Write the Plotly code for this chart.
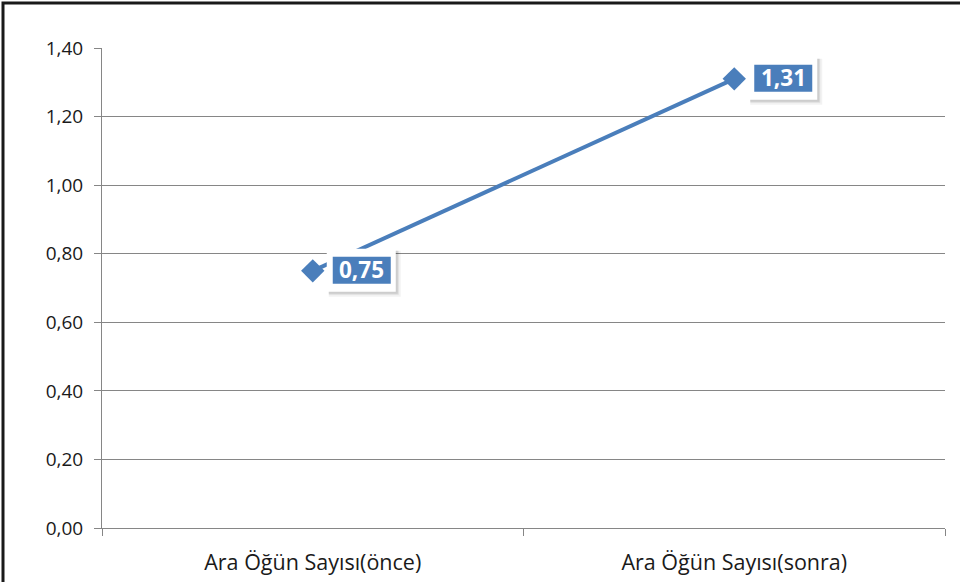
import plotly.graph_objects as go

categories = ["Ara Öğün Sayısı(önce)", "Ara Öğün Sayısı(sonra)"]
values = [0.75, 1.31]
y_ticks = [0.0, 0.2, 0.4, 0.6, 0.8, 1.0, 1.2, 1.4]

BLUE = "#4a7ebb"
GRID = "#868686"
FONT = "Open Sans"

fig = go.Figure()
fig.add_trace(go.Scatter(
    x=categories, y=values, mode="lines+markers",
    line=dict(color=BLUE, width=4),
    marker=dict(symbol="diamond", size=18, color=BLUE),
    hoverinfo="skip", showlegend=False,
))

labels = [f"{v:.2f}".replace(".", ",") for v in values]


def pix_rect(c, v, x0, x1, y0, y1, fill, line_color=None, line_width=0):
    fig.add_shape(type="rect", xref="x", yref="y",
                  xsizemode="pixel", ysizemode="pixel", xanchor=c, yanchor=v,
                  x0=x0, x1=x1, y0=y0, y1=y1, fillcolor=fill,
                  line=dict(color=line_color or fill, width=line_width), layer="above")


for c, v, t in zip(categories, values, labels):
    # soft shadow
    pix_rect(c, v, 16, 88, -26, 20, "rgba(0,0,0,0.05)")
    pix_rect(c, v, 16, 86, -24, 20, "rgba(0,0,0,0.08)")
    pix_rect(c, v, 16, 85, -23, 20, "rgba(0,0,0,0.08)")
    # white frame
    pix_rect(c, v, 14, 83, -21, 22, "white")
    # blue box
    pix_rect(c, v, 20, 78, -13, 14, BLUE)
    fig.add_annotation(x=c, y=v, xref="x", yref="y", text=f"<b>{t}</b>", showarrow=False,
                       xanchor="center", yanchor="middle", xshift=49, yshift=1,
                       font=dict(family=FONT, size=22.5, color="white"))

fig.add_shape(type="rect", xref="paper", yref="paper",
              x0=-99 / 843, y0=-0.3, x1=1.2, y1=1 + 45 / 480,
              line=dict(color="#1a1a1a", width=3), layer="above")

fig.update_layout(
    width=960, height=582, autosize=False,
    margin=dict(l=102, r=15, t=48, b=54, pad=0),
    paper_bgcolor="white", plot_bgcolor="white",
    separators=",.",
    font=dict(family=FONT, size=18, color="#1a1a1a"),
    xaxis=dict(type="category", range=[-0.5, 1.5], showgrid=False, showline=True,
               linecolor=GRID, linewidth=1, automargin=False,
               tickfont=dict(size=21.5),
               ticks="outside", tickson="boundaries", ticklen=7, tickcolor=GRID,
               ticklabelstandoff=15, zeroline=False),
    yaxis=dict(range=[0, 1.4], tickvals=y_ticks, tickformat=".2f", showgrid=True,
               gridcolor=GRID, gridwidth=1, showline=True, linecolor=GRID, linewidth=1,
               automargin=False, tickfont=dict(size=19),
               ticks="outside", ticklen=7, tickcolor=GRID, ticklabelstandoff=7, zeroline=False),
)

fig.write_html("out.html", config={"displayModeBar": False},
               post_script="document.body.style.margin='0';")
